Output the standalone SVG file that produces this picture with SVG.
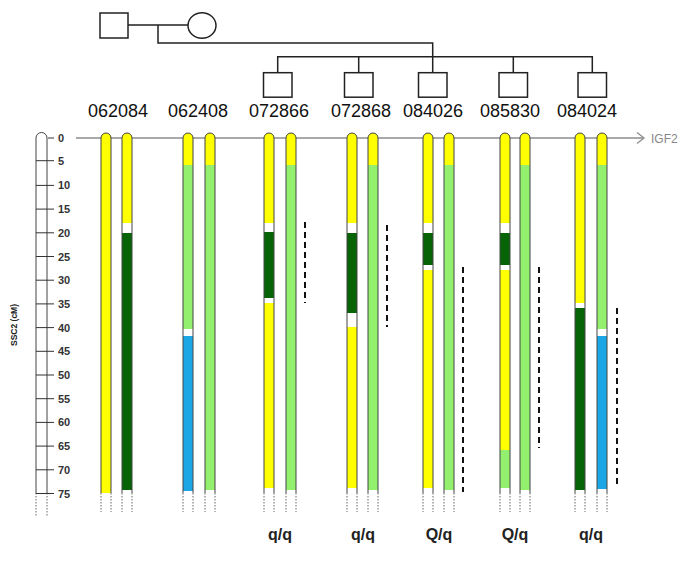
<svg xmlns="http://www.w3.org/2000/svg" width="685" height="562" viewBox="0 0 685 562">
<style>
.ped{fill:#fff;stroke:#222;stroke-width:1.5}
.pl{fill:none;stroke:#222;stroke-width:1.5}
.id{font-family:"Liberation Sans",Arial,sans-serif;font-size:18px;fill:#111;text-anchor:middle}
.gt{font-family:"Liberation Sans",Arial,sans-serif;font-size:16px;font-weight:bold;fill:#222;text-anchor:middle}
.tk{font-family:"Liberation Sans",Arial,sans-serif;font-size:11px;font-weight:bold;fill:#333}
.ol{fill:none;stroke:#444;stroke-width:1}
.dot{stroke:#666;stroke-width:1;stroke-dasharray:1.5,1.5}
.dash{stroke:#111;stroke-width:2;stroke-dasharray:6,4}
.Y{fill:#ffff00}.LG{fill:#92f06e}.DG{fill:#066406}.B{fill:#1ba6e6}
.tick{stroke:#333;stroke-width:1}
</style>
<rect width="685" height="562" fill="#fff"/>

<g id="pedigree-lines">
<path class="pl" d="M128 25H188M158 25V43H432.7V72.7M277.7 72.7V56.7H592.3V72.7M358.7 56.7V72.7M513.3 56.7V72.7"/>
</g>
<g id="father"><rect class="ped" x="100" y="13" width="28" height="25"/></g>
<g id="mother"><ellipse class="ped" cx="202" cy="25.5" rx="14" ry="12.8"/></g>
<g id="child1"><rect class="ped" x="263.5" y="72.7" width="28.5" height="24.5"/></g>
<g id="child2"><rect class="ped" x="344.5" y="72.7" width="28.5" height="24.5"/></g>
<g id="child3"><rect class="ped" x="418.5" y="72.7" width="28.5" height="24.5"/></g>
<g id="child4"><rect class="ped" x="499" y="72.7" width="28.5" height="24.5"/></g>
<g id="child5"><rect class="ped" x="578" y="72.7" width="28.5" height="24.5"/></g>

<g id="labels">
<text class="id" x="118" y="117">062084</text>
<text class="id" x="198" y="117">062408</text>
<text class="id" x="279" y="117">072866</text>
<text class="id" x="361" y="117">072868</text>
<text class="id" x="433" y="117">084026</text>
<text class="id" x="510" y="117">085830</text>
<text class="id" x="587" y="117">084024</text>
</g>

<g id="ruler">
<path class="ol" d="M36 493V138A5.5 5.5 0 0 1 47 138V493"/>
<line class="dot" x1="36" y1="493" x2="36" y2="517"/>
<line class="dot" x1="47" y1="493" x2="47" y2="517"/>
<g class="tick">
<line x1="48" y1="138" x2="54" y2="138"/>
<line x1="36" y1="160.7" x2="54" y2="160.7"/>
<line x1="36" y1="185.4" x2="54" y2="185.4"/>
<line x1="36" y1="209.1" x2="54" y2="209.1"/>
<line x1="36" y1="232.8" x2="54" y2="232.8"/>
<line x1="36" y1="256.5" x2="54" y2="256.5"/>
<line x1="36" y1="280.2" x2="54" y2="280.2"/>
<line x1="36" y1="303.9" x2="54" y2="303.9"/>
<line x1="36" y1="327.6" x2="54" y2="327.6"/>
<line x1="36" y1="351.3" x2="54" y2="351.3"/>
<line x1="36" y1="375" x2="54" y2="375"/>
<line x1="36" y1="398.7" x2="54" y2="398.7"/>
<line x1="36" y1="422.4" x2="54" y2="422.4"/>
<line x1="36" y1="446.1" x2="54" y2="446.1"/>
<line x1="36" y1="469.8" x2="54" y2="469.8"/>
<line x1="36" y1="493.5" x2="54" y2="493.5"/>
</g>
<g class="tk">
<text x="58" y="142">0</text>
<text x="58" y="164.7">5</text>
<text x="58" y="189.4">10</text>
<text x="58" y="213.1">15</text>
<text x="58" y="236.8">20</text>
<text x="58" y="260.5">25</text>
<text x="58" y="284.2">30</text>
<text x="58" y="307.9">35</text>
<text x="58" y="331.6">40</text>
<text x="58" y="355.3">45</text>
<text x="58" y="379">50</text>
<text x="58" y="402.7">55</text>
<text x="58" y="426.4">60</text>
<text x="58" y="450.1">65</text>
<text x="58" y="473.8">70</text>
<text x="58" y="497.5">75</text>
</g>
<text x="0" y="0" transform="translate(17 325) rotate(-90)" text-anchor="middle" style="font-family:'Liberation Sans',Arial,sans-serif;font-size:8.5px;font-weight:bold;fill:#222">SSC2 (cM)</text>
</g>

<g id="igf2">
<line x1="76" y1="138" x2="643" y2="138" stroke="#8c8c8c" stroke-width="1.3"/>
<path d="M637 132.5L644 138L637 143.5" fill="none" stroke="#8c8c8c" stroke-width="1.3"/>
<text x="651" y="142.5" style="font-family:'Liberation Sans',Arial,sans-serif;font-size:12px;fill:#888">IGF2</text>
</g>

<g id="chromosomes">
<!-- pair 1 -->
<g id="c062084">
<path class="Y" d="M101 493V138A5 5 0 0 1 111 138V493Z"/>
<path class="ol" d="M101 493V138A5 5 0 0 1 111 138V493"/>
<path class="Y" d="M122 223V138A5 5 0 0 1 132 138V223Z"/>
<rect class="DG" x="122" y="233" width="10" height="257"/>
<path class="ol" d="M122 493V138A5 5 0 0 1 132 138V493"/>
<g class="dot"><line x1="101" y1="493" x2="101" y2="512"/><line x1="111" y1="493" x2="111" y2="512"/><line x1="122" y1="493" x2="122" y2="512"/><line x1="132" y1="493" x2="132" y2="512"/></g>
</g>
<!-- pair 2 -->
<g id="c062408">
<path class="Y" d="M183 165V138A5 5 0 0 1 193 138V165Z"/>
<rect class="LG" x="183" y="165" width="10" height="164"/>
<rect class="B" x="183" y="336" width="10" height="155"/>
<path class="ol" d="M183 493V138A5 5 0 0 1 193 138V493"/>
<path class="Y" d="M205 165V138A5 5 0 0 1 215 138V165Z"/>
<rect class="LG" x="205" y="165" width="10" height="325"/>
<path class="ol" d="M205 493V138A5 5 0 0 1 215 138V493"/>
<g class="dot"><line x1="183" y1="493" x2="183" y2="512"/><line x1="193" y1="493" x2="193" y2="512"/><line x1="205" y1="493" x2="205" y2="512"/><line x1="215" y1="493" x2="215" y2="512"/></g>
</g>
<!-- pair 3 -->
<g id="c072866">
<path class="Y" d="M264 223V138A5 5 0 0 1 274 138V223Z"/>
<rect class="DG" x="264" y="232" width="10" height="66"/>
<rect class="Y" x="264" y="303" width="10" height="185"/>
<path class="ol" d="M264 493V138A5 5 0 0 1 274 138V493"/>
<path class="Y" d="M286 165V138A5 5 0 0 1 296 138V165Z"/>
<rect class="LG" x="286" y="165" width="10" height="325"/>
<path class="ol" d="M286 493V138A5 5 0 0 1 296 138V493"/>
<g class="dot"><line x1="264" y1="493" x2="264" y2="512"/><line x1="274" y1="493" x2="274" y2="512"/><line x1="286" y1="493" x2="286" y2="512"/><line x1="296" y1="493" x2="296" y2="512"/></g>
</g>
<!-- pair 4 -->
<g id="c072868">
<path class="Y" d="M347 223V138A5 5 0 0 1 357 138V223Z"/>
<rect class="DG" x="347" y="233" width="10" height="80"/>
<rect class="Y" x="347" y="327" width="10" height="161"/>
<path class="ol" d="M347 493V138A5 5 0 0 1 357 138V493"/>
<path class="Y" d="M368 165V138A5 5 0 0 1 378 138V165Z"/>
<rect class="LG" x="368" y="165" width="10" height="325"/>
<path class="ol" d="M368 493V138A5 5 0 0 1 378 138V493"/>
<g class="dot"><line x1="347" y1="493" x2="347" y2="512"/><line x1="357" y1="493" x2="357" y2="512"/><line x1="368" y1="493" x2="368" y2="512"/><line x1="378" y1="493" x2="378" y2="512"/></g>
</g>
<!-- pair 5 -->
<g id="c084026">
<path class="Y" d="M423 223V138A5 5 0 0 1 433 138V223Z"/>
<rect class="DG" x="423" y="233" width="10" height="32"/>
<rect class="Y" x="423" y="270" width="10" height="218"/>
<path class="ol" d="M423 493V138A5 5 0 0 1 433 138V493"/>
<path class="Y" d="M444 165V138A5 5 0 0 1 454 138V165Z"/>
<rect class="LG" x="444" y="165" width="10" height="325"/>
<path class="ol" d="M444 493V138A5 5 0 0 1 454 138V493"/>
<g class="dot"><line x1="423" y1="493" x2="423" y2="512"/><line x1="433" y1="493" x2="433" y2="512"/><line x1="444" y1="493" x2="444" y2="512"/><line x1="454" y1="493" x2="454" y2="512"/></g>
</g>
<!-- pair 6 -->
<g id="c085830">
<path class="Y" d="M500 223V138A5 5 0 0 1 510 138V223Z"/>
<rect class="DG" x="500" y="233" width="10" height="32"/>
<rect class="Y" x="500" y="270" width="10" height="180"/>
<rect class="LG" x="500" y="450" width="10" height="38"/>
<path class="ol" d="M500 493V138A5 5 0 0 1 510 138V493"/>
<path class="Y" d="M520 165V138A5 5 0 0 1 530 138V165Z"/>
<rect class="LG" x="520" y="165" width="10" height="325"/>
<path class="ol" d="M520 493V138A5 5 0 0 1 530 138V493"/>
<g class="dot"><line x1="500" y1="493" x2="500" y2="512"/><line x1="510" y1="493" x2="510" y2="512"/><line x1="520" y1="493" x2="520" y2="512"/><line x1="530" y1="493" x2="530" y2="512"/></g>
</g>
<!-- pair 7 -->
<g id="c084024">
<path class="Y" d="M575 303V138A5 5 0 0 1 585 138V303Z"/>
<rect class="DG" x="575" y="308" width="10" height="182"/>
<path class="ol" d="M575 493V138A5 5 0 0 1 585 138V493"/>
<path class="Y" d="M597 165V138A5 5 0 0 1 607 138V165Z"/>
<rect class="LG" x="597" y="165" width="10" height="164"/>
<rect class="B" x="597" y="336" width="10" height="153"/>
<path class="ol" d="M597 493V138A5 5 0 0 1 607 138V493"/>
<g class="dot"><line x1="575" y1="493" x2="575" y2="512"/><line x1="585" y1="493" x2="585" y2="512"/><line x1="597" y1="493" x2="597" y2="512"/><line x1="607" y1="493" x2="607" y2="512"/></g>
</g>
</g>

<g id="intervals">
<line class="dash" x1="305" y1="222" x2="305" y2="303"/>
<line class="dash" x1="387" y1="225" x2="387" y2="327"/>
<line class="dash" x1="463" y1="267" x2="463" y2="492"/>
<line class="dash" x1="539" y1="267" x2="539" y2="448"/>
<line class="dash" x1="617" y1="308" x2="617" y2="488"/>
</g>

<g id="genotypes">
<text class="gt" x="280" y="540">q/q</text>
<text class="gt" x="363" y="540">q/q</text>
<text class="gt" x="439" y="540">Q/q</text>
<text class="gt" x="515" y="540">Q/q</text>
<text class="gt" x="591" y="540">q/q</text>
</g>
</svg>
